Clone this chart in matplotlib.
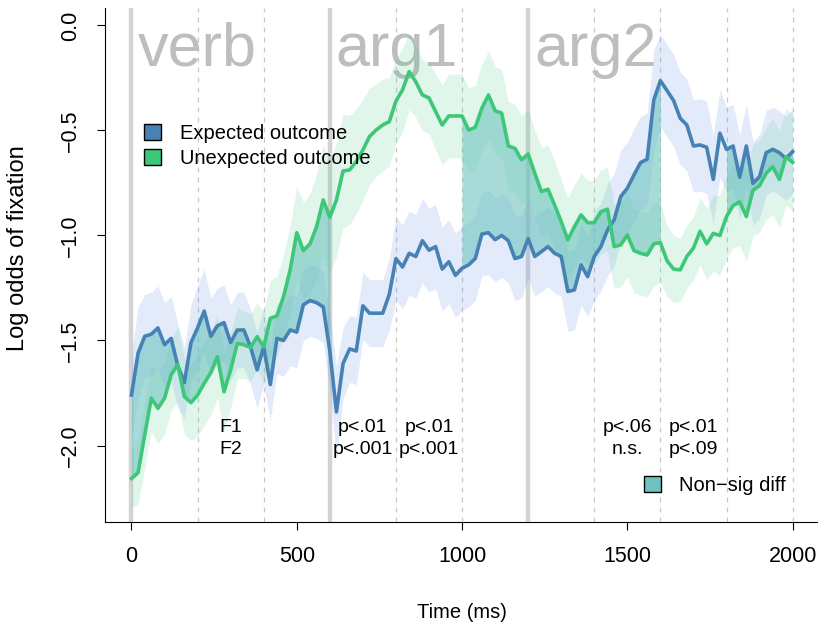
import numpy as np
import matplotlib.pyplot as plt
from matplotlib.patches import Patch

plt.rcParams['font.family'] = ['Liberation Sans', 'DejaVu Sans']

# time bins (ms)
time = np.arange(0, 2001, 20)

# Expected outcome (log odds)
expected = [-1.76, -1.56, -1.48, -1.47, -1.44, -1.52, -1.49, -1.62, -1.70, -1.51,
            -1.44, -1.36, -1.48, -1.43, -1.415, -1.51, -1.45, -1.45, -1.53, -1.64,
            -1.53, -1.71, -1.49, -1.50, -1.45, -1.46, -1.33, -1.31, -1.32, -1.34,
            -1.55, -1.84, -1.61, -1.54, -1.55, -1.335, -1.37, -1.37, -1.37, -1.28,
            -1.11, -1.15, -1.085, -1.10, -1.025, -1.07, -1.053, -1.16, -1.125, -1.19,
            -1.156, -1.14, -1.11, -0.993, -0.987, -1.02, -1.00, -1.025, -1.11, -1.10,
            -1.015, -1.10, -1.077, -1.053, -1.085, -1.10, -1.267, -1.259, -1.14, -1.196,
            -1.10, -1.053, -0.974, -0.926, -0.815, -0.775, -0.712, -0.653, -0.637, -0.355,
            -0.263, -0.31, -0.358, -0.442, -0.474, -0.574, -0.569, -0.58, -0.733, -0.513,
            -0.59, -0.574, -0.723, -0.574, -0.752, -0.72, -0.606, -0.59, -0.606, -0.633,
            -0.601]
# Unexpected outcome (log odds)
unexpected = [-2.157, -2.129, -1.95, -1.775, -1.823, -1.775, -1.664, -1.614, -1.767, -1.796,
              -1.76, -1.704, -1.653, -1.577, -1.744, -1.64, -1.514, -1.52, -1.533, -1.482,
              -1.53, -1.394, -1.383, -1.291, -1.164, -0.987, -1.072, -1.04, -0.958, -0.831,
              -0.913, -0.831, -0.693, -0.688, -0.648, -0.593, -0.529, -0.498, -0.474, -0.458,
              -0.36, -0.307, -0.22, -0.268, -0.331, -0.345, -0.41, -0.474, -0.431, -0.431,
              -0.431, -0.498, -0.485, -0.394, -0.331, -0.406, -0.418, -0.574, -0.585, -0.64,
              -0.612, -0.704, -0.791, -0.78, -0.855, -0.934, -1.021, -0.958, -0.902, -0.939,
              -0.939, -0.887, -0.875, -1.053, -1.045, -0.998, -1.072, -1.085, -1.093, -1.04,
              -1.034, -1.12, -1.16, -1.164, -1.10, -1.06, -0.98, -1.04, -0.99, -1.0,
              -0.91, -0.858, -0.84, -0.91, -0.785, -0.763, -0.704, -0.673, -0.733, -0.625,
              -0.652]
# half-width of the confidence bands
expected_ci = [0.20, 0.22, 0.20, 0.20, 0.20, 0.20, 0.20, 0.20, 0.17, 0.18,
               0.20, 0.20, 0.18, 0.18, 0.18, 0.18, 0.18, 0.18, 0.18, 0.18,
               0.18, 0.17, 0.17, 0.17, 0.17, 0.17, 0.17, 0.17, 0.17, 0.17,
               0.18, 0.22, 0.17, 0.16, 0.16, 0.16, 0.16, 0.16, 0.16, 0.17,
               0.20, 0.20, 0.20, 0.20, 0.20, 0.20, 0.20, 0.20, 0.20, 0.20,
               0.20, 0.20, 0.20, 0.20, 0.20, 0.20, 0.20, 0.20, 0.20, 0.20,
               0.19, 0.19, 0.19, 0.19, 0.19, 0.19, 0.19, 0.19, 0.19, 0.19,
               0.21, 0.21, 0.22, 0.22, 0.22, 0.22, 0.22, 0.22, 0.22, 0.24,
               0.22, 0.22, 0.22, 0.22, 0.22, 0.22, 0.22, 0.22, 0.21, 0.21,
               0.20, 0.20, 0.20, 0.20, 0.20, 0.20, 0.20, 0.20, 0.20, 0.20,
               0.20]
unexpected_ci = [0.14, 0.15, 0.16, 0.16, 0.17, 0.17, 0.17, 0.18, 0.18, 0.18,
                 0.20, 0.20, 0.20, 0.20, 0.19, 0.18, 0.17, 0.16, 0.16, 0.16,
                 0.17, 0.18, 0.19, 0.20, 0.21, 0.22, 0.23, 0.24, 0.25, 0.26,
                 0.27, 0.27, 0.27, 0.26, 0.25, 0.24, 0.23, 0.22, 0.22, 0.21,
                 0.20, 0.20, 0.18, 0.17, 0.17, 0.17, 0.18, 0.19, 0.20, 0.20,
                 0.20, 0.20, 0.20, 0.21, 0.21, 0.21, 0.21, 0.21, 0.21, 0.21,
                 0.21, 0.21, 0.21, 0.21, 0.21, 0.20, 0.20, 0.20, 0.20, 0.20,
                 0.20, 0.20, 0.20, 0.20, 0.20, 0.20, 0.20, 0.20, 0.20, 0.20,
                 0.19, 0.17, 0.16, 0.15, 0.15, 0.15, 0.16, 0.17, 0.18, 0.19,
                 0.20, 0.20, 0.21, 0.21, 0.22, 0.22, 0.22, 0.23, 0.23, 0.23,
                 0.23]

# windows where the difference is not significant
nonsig_windows = [(0, 600), (1000, 1600), (1800, 2000)]
region_starts = [0, 600, 1200]
region_names = ['verb', 'arg1', 'arg2']
window_bounds = [200, 400, 800, 1000, 1400, 1600, 1800, 2000]
# p-value annotations: window centre, F1 row, F2 row
stat_centres = [300, 700, 900, 1500, 1700]
stat_f1 = ['F1', 'p<.01', 'p<.01', 'p<.06', 'p<.01']
stat_f2 = ['F2', 'p<.001', 'p<.001', 'n.s.', 'p<.09']

blue = '#4682B4'
green = '#3CC878'
teal = '#6EC3BF'

expected = np.array(expected)
unexpected = np.array(unexpected)
expected_ci = np.array(expected_ci)
unexpected_ci = np.array(unexpected_ci)

fig = plt.figure(figsize=(8.18, 6.24), dpi=100)
ax = fig.add_axes([0.1284, 0.1635, 0.8729, 0.8237])

for b in window_bounds:
    ax.axvline(b, color='#C8C8C8', lw=0.9, ls=(0, (4, 4)), zorder=1)
for s in region_starts:
    ax.axvline(s, color='#D3D3D3', lw=3.2, zorder=1)
for s, name in zip(region_starts, region_names):
    ax.text(s + 18, -0.119, name, fontsize=44, color='#BEBEBE', ha='left', va='center', zorder=2)

ax.fill_between(time, expected - expected_ci, expected + expected_ci,
                color='#6495ED', alpha=0.18, lw=0, zorder=3)
ax.fill_between(time, unexpected - unexpected_ci, unexpected + unexpected_ci,
                color=green, alpha=0.15, lw=0, zorder=3)

for a, b in nonsig_windows:
    m = (time >= a) & (time <= b)
    ax.fill_between(time[m], expected[m], unexpected[m], color=teal, alpha=0.6, lw=0, zorder=4)

ax.plot(time, expected, color=blue, lw=2.6, zorder=5)
ax.plot(time, unexpected, color=green, lw=2.6, zorder=5)

for c, t1, t2 in zip(stat_centres, stat_f1, stat_f2):
    ax.text(c, -1.912, t1, fontsize=14, ha='center', va='center', zorder=6)
    ax.text(c, -2.017, t2, fontsize=14, ha='center', va='center', zorder=6)

leg1 = ax.legend(handles=[Patch(facecolor=blue, edgecolor='black', lw=1),
                          Patch(facecolor=green, edgecolor='black', lw=1)],
                 labels=['Expected outcome', 'Unexpected outcome'],
                 loc='upper left', bbox_to_anchor=(0.055, 0.775), frameon=False,
                 fontsize=14.5, handlelength=0.85, handleheight=0.85,
                 handletextpad=0.9, labelspacing=0.3, borderpad=0, borderaxespad=0)
ax.add_artist(leg1)
ax.legend(handles=[Patch(facecolor=teal, edgecolor='black', lw=1)], labels=['Non\u2212sig diff'],
          loc='upper left', bbox_to_anchor=(0.755, 0.09), frameon=False,
          fontsize=14.5, handlelength=0.85, handleheight=0.85,
          handletextpad=0.9, borderpad=0, borderaxespad=0)

ax.set_xlim(-80, 2080)
ax.set_ylim(-2.364, 0.083)
ax.spines['top'].set_visible(False)
ax.spines['right'].set_visible(False)
ax.set_xticks([0, 500, 1000, 1500, 2000])
ax.set_yticks([0.0, -0.5, -1.0, -1.5, -2.0])
ax.set_yticklabels(['0.0', '\u22120.5', '\u22121.0', '\u22121.5', '\u22122.0'],
                   rotation=90, va='center')
ax.tick_params(direction='out', length=5.5, width=0.8, labelsize=15.5, pad=12)
ax.set_xlabel('Time (ms)', fontsize=14.5, labelpad=26)
ax.set_ylabel('Log odds of fixation', fontsize=17)
ax.yaxis.set_label_coords(-0.106, 0.533)

fig.savefig('out.png', dpi=100)
